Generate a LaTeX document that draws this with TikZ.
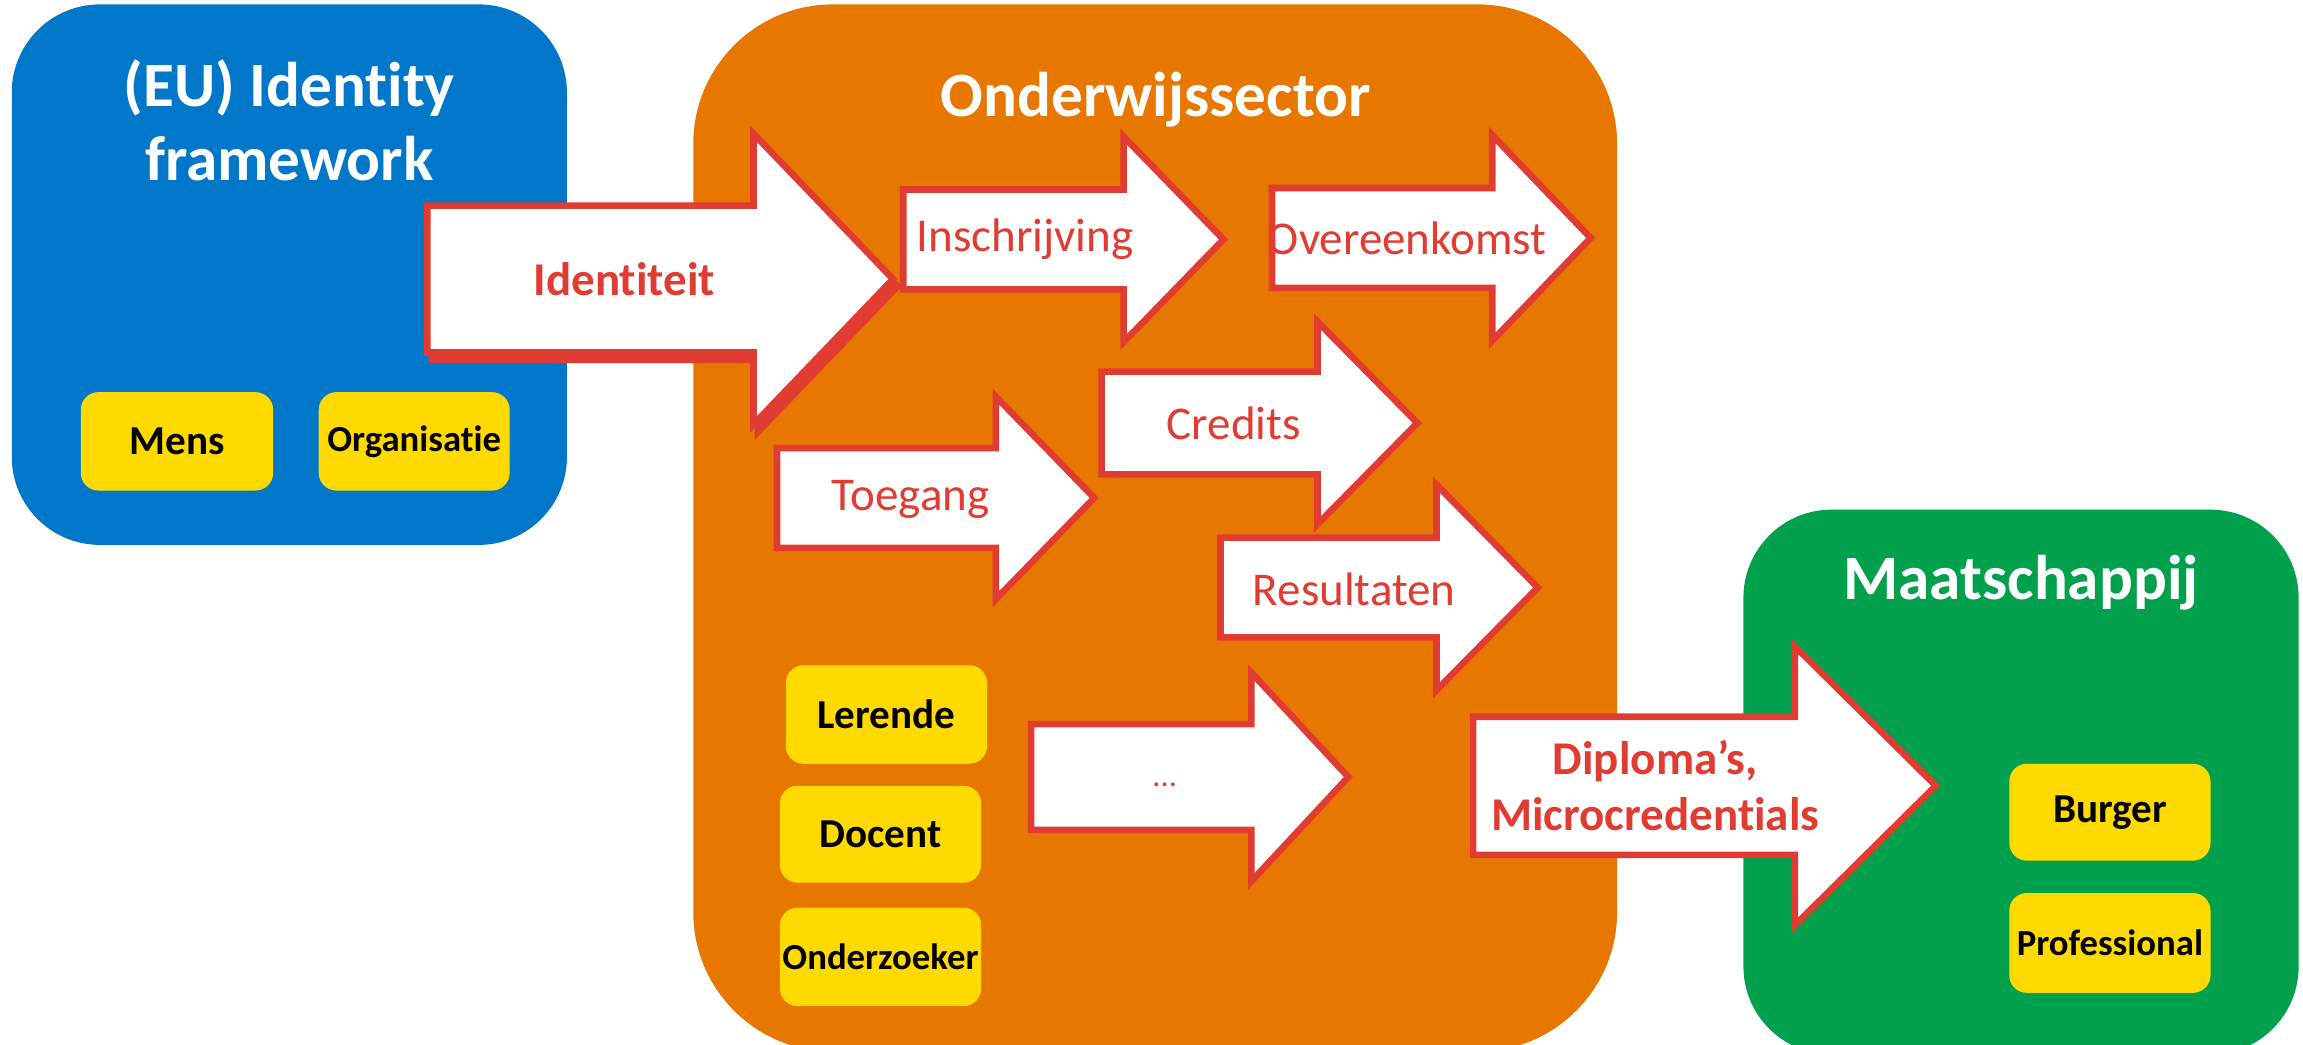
\documentclass[tikz,border=0pt]{standalone}
\usepackage{fontspec}
\setmainfont{Carlito}[Ligatures={NoCommon,NoContextual}]
\definecolor{euBlue}{RGB}{0,119,200}
\definecolor{eduOrange}{RGB}{232,119,0}
\definecolor{socGreen}{RGB}{0,160,77}
\definecolor{tagYellow}{RGB}{255,218,0}
\definecolor{arrRed}{RGB}{224,60,50}
\tikzset{
  titletext/.style={text=white,font=\fontsize{43}{50}\selectfont\bfseries,align=center,inner sep=0pt},
  tagbox/.style={fill=tagYellow,rounded corners=12pt,draw=none},
  tagtext/.style={text=black,font=\fontsize{28}{32}\selectfont\bfseries,inner sep=0pt},
  tagsmall/.style={text=black,font=\fontsize{25}{30}\selectfont\bfseries,inner sep=0pt},
  arr/.style={fill=white,draw=arrRed,line width=4.5pt,line join=miter},
  arrshadow/.style={fill=arrRed,draw=arrRed,line width=4.5pt,line join=miter},
  arrtext/.style={text=arrRed,font=\fontsize{32}{38}\selectfont,inner sep=0pt},
  arrbold/.style={text=arrRed,font=\fontsize{32}{38}\selectfont\bfseries,align=center,inner sep=0pt},
}
% #1 tail x, #2 centre y, #3 shaft half height, #4 head base x, #5 head half height, #6 tip x, #7 style
\newcommand\blockarrow[7]{%
  \path[#7] (#1,-#2+#3) -- (#4,-#2+#3) -- (#4,-#2+#5) -- (#6,-#2) -- (#4,-#2-#5) -- (#4,-#2-#3) -- (#1,-#2-#3) -- cycle;}
\begin{document}
\begin{tikzpicture}[x=1pt,y=1pt]
\clip (0,0) rectangle (1568,-711);
\fill[white] (0,0) rectangle (1568,-711);
% sectors
\fill[euBlue,rounded corners=60pt] (8,-3) rectangle (386,-371);
\fill[eduOrange,rounded corners=95pt] (472,-3) rectangle (1101,-716);
\fill[socGreen,rounded corners=60pt] (1187,-347) rectangle (1565,-718);
\node[titletext] (eu) at (197,-82) {(EU) Identity\\framework};
\node[titletext] (edu) at (787,-68) {Onderwijssector};
\node[titletext] (soc) at (1376,-397) {Maatschappij};
% yellow tags
\path[tagbox] (55,-267) rectangle (186,-334);
\node[tagtext] (mens) at (120.5,-300.5) {Mens};
\path[tagbox] (217,-267) rectangle (347,-334);
\node[tagsmall] (org) at (282,-300.5) {Organisatie};
\path[tagbox] (535,-453) rectangle (672,-520);
\node[tagtext] (ler) at (603.5,-486.5) {Lerende};
\path[tagbox] (531,-535) rectangle (668,-601);
\node[tagtext] (doc) at (599.5,-568) {Docent};
\path[tagbox] (531,-618) rectangle (668,-685);
\node[tagsmall] (onz) at (599.5,-651.5) {Onderzoeker};
\path[tagbox] (1368,-520) rectangle (1505,-586);
\node[tagtext] (bur) at (1436.5,-553) {Burger};
\path[tagbox] (1368,-608) rectangle (1505,-676);
\node[tagsmall] (pro) at (1436.5,-642) {Professional};
% arrows
\begin{scope}[xshift=3pt,yshift=-5pt]
\blockarrow{291}{190}{50}{513}{99}{608}{arrshadow}
\end{scope}
\blockarrow{291}{190}{50}{513}{99}{608}{arr}
\node[arrbold] (ident) at (425,-190) {Identiteit};
\blockarrow{615}{163}{34}{765}{70}{833}{arr}
\node[arrtext] (insch) at (698,-163) {Inschrijving};
\blockarrow{866}{162}{34}{1016}{70}{1083}{arr}
\node[arrtext] (over) at (958,-162) {Overeenkomst};
\blockarrow{750}{288}{35}{897}{69}{965}{arr}
\node[arrtext] (cred) at (840,-288) {Credits};
\blockarrow{529}{339}{34}{678}{69}{745}{arr}
\node[arrtext] (toeg) at (620,-340) {Toegang};
\blockarrow{831}{400}{34}{978}{70}{1047}{arr}
\node[arrtext] (res) at (922,-401) {Resultaten};
\blockarrow{702}{529}{36}{852}{71}{918}{arr}
\node[arrtext,font=\fontsize{22}{26}\selectfont] (dots) at (793,-534) {...};
\blockarrow{1003}{535}{47}{1222}{95}{1318}{arr}
\node[arrbold] (dipl) at (1127,-535) {Diploma’s,\\Microcredentials};
\end{tikzpicture}
\end{document}
